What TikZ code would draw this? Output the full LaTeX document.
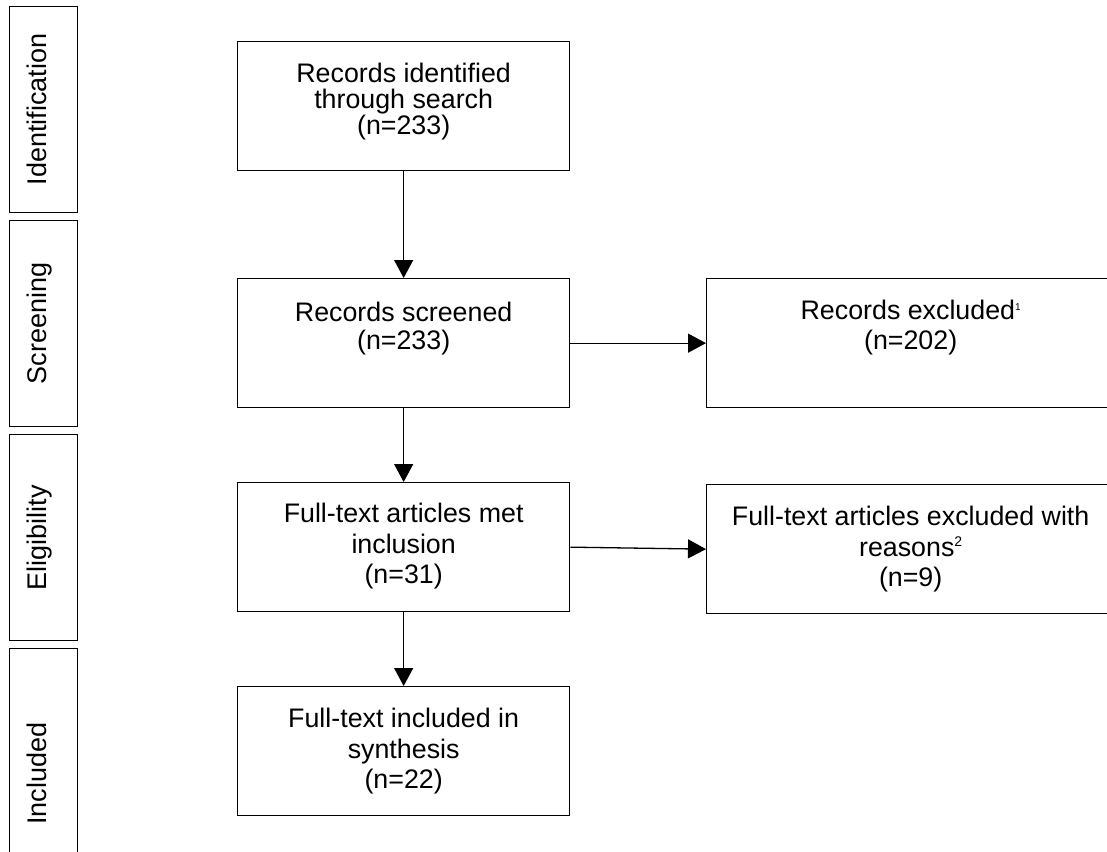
\documentclass[tikz,border=0pt]{standalone}
\usepackage{fontspec}
\setmainfont{Liberation Sans}
\usetikzlibrary{arrows.meta}
\begin{document}
\begin{tikzpicture}[x=1pt,y=-1pt,
  box/.style={draw=black, line width=1.3pt, inner sep=0pt, anchor=north west,
    minimum width=332pt, minimum height=129pt},
  widebox/.style={box, minimum width=408pt},
  boxtext/.style={anchor=north, align=center, inner sep=0pt,
    font=\fontsize{26.8}{#1}\selectfont},
  boxtext/.default=30.5,
  stage/.style={draw=black, line width=1.3pt, inner sep=0pt, anchor=north west,
    minimum width=68pt, minimum height=206pt},
  stagetext/.style={rotate=90, inner sep=0pt, text height=0.75em, text depth=0.21em,
    font=\fontsize{27}{28}\selectfont},
  flow/.style={line width=1.3pt, -{Triangle[length=18pt,width=19pt]}}
]
\newcommand{\supone}{\raisebox{9pt}{\fontsize{10}{10}\selectfont 1}}
\newcommand{\suptwo}{\raisebox{10pt}{\fontsize{14}{14}\selectfont 2}}

\useasboundingbox (0,0) rectangle (1107,851);
\clip (0,0) rectangle (1107,851);

% stage column
\node[stage] (sid) at (9,6) {};
\node[stage] (ssc) at (9,220) {};
\node[stage] (sel) at (9,434) {};
\node[stage, minimum height=250pt] (sin) at (9,648) {};
\node[stagetext] (tid) at (sid.center) {Identification};
\node[stagetext] (tsc) at (ssc.center) {Screening};
\node[stagetext] (tel) at (sel.center) {Eligibility};
\node[stagetext] (tin) at (sin.center) {Included};

% flow boxes
\node[box] (b1) at (237,41) {};
\node[box] (b2) at (237,278) {};
\node[box] (b3) at (237,482) {};
\node[box] (b4) at (237,686) {};
\node[widebox] (x1) at (706,278) {};
\node[widebox] (x2) at (706,484) {};

\node[boxtext=26] (b1t) at ([yshift=-22pt]b1.north) {Records identified\\through search\\(n=233)};
\node[boxtext=28.5] (b2t) at ([yshift=-23.5pt]b2.north) {Records screened\\(n=233)};
\node[boxtext] (b3t) at ([yshift=-21pt]b3.north) {Full-text articles met\\inclusion\\(n=31)};
\node[boxtext] (b4t) at ([yshift=-22pt]b4.north) {Full-text included in\\synthesis\\(n=22)};
\node[boxtext=30] (x1t) at ([yshift=-22pt]x1.north) {Records excluded\supone\\(n=202)};
\node[boxtext] (x2t) at ([yshift=-22pt]x2.north) {Full-text articles excluded with\\reasons\suptwo\\(n=9)};

% connectors
\draw[flow] (b1.south) -- (b2.north);
\draw[flow] (b2.south) -- (b3.north);
\draw[flow] (b3.south) -- (b4.north);
\draw[flow] (b2.east) -- (x1.west);
\draw[flow] (b3.east) -- (x2.west);
\end{tikzpicture}
\end{document}
